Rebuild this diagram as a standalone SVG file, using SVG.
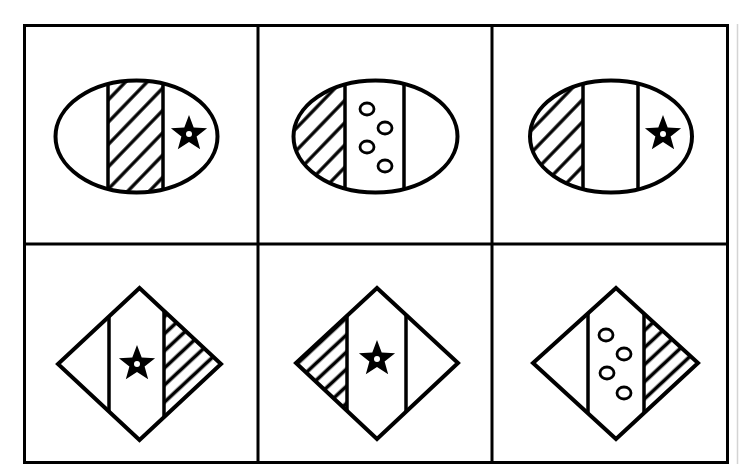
<svg xmlns="http://www.w3.org/2000/svg" width="740" height="474" viewBox="0 0 740 474">
<style>
.grid{fill:none;stroke:#000;stroke-width:3}
.shape{fill:none;stroke:#000;stroke-width:4;stroke-linejoin:miter}
.div{stroke:#000;stroke-width:3.5}
.dot{fill:#fff;stroke:#000;stroke-width:2.8}
</style>
<defs>
<pattern id="hatchE" patternUnits="userSpaceOnUse" width="15.5" height="15.5" patternTransform="rotate(-46)">
<line x1="0" y1="7.75" x2="15.5" y2="7.75" stroke="#000" stroke-width="3.3"/>
</pattern>
<pattern id="hatchD" patternUnits="userSpaceOnUse" width="12.5" height="12.5" patternTransform="rotate(-43)">
<line x1="0" y1="6.25" x2="12.5" y2="6.25" stroke="#000" stroke-width="3.6"/>
</pattern>
<g id="star">
<polygon points="0,-19 4.7,-6.47 18.07,-5.87 7.61,2.47 11.17,15.37 0,8 -11.17,15.37 -7.61,2.47 -18.07,-5.87 -4.7,-6.47" fill="#000"/>
<circle cx="0" cy="0" r="3" fill="#fff"/>
</g>
<clipPath id="c1"><ellipse cx="136.5" cy="136.5" rx="81" ry="56"/></clipPath>
<clipPath id="c2"><ellipse cx="375.5" cy="136.5" rx="82" ry="56"/></clipPath>
<clipPath id="c3"><ellipse cx="611" cy="136.5" rx="81" ry="56"/></clipPath>
<clipPath id="c4"><polygon points="139.5,288 221,364 139.5,440 58,364"/></clipPath>
<clipPath id="c5"><polygon points="377,288 458,363 377,439 296,363"/></clipPath>
<clipPath id="c6"><polygon points="616,288 698,363 616,439 533,363"/></clipPath>
</defs>
<rect width="740" height="474" fill="#fff"/>
<g id="grid">
<rect class="grid" x="24.5" y="25.5" width="703" height="437"/>
<line class="grid" x1="24.5" y1="244" x2="727.5" y2="244"/>
<line class="grid" x1="258" y1="25.5" x2="258" y2="462.5"/>
<line class="grid" x1="492" y1="25.5" x2="492" y2="462.5"/>
<line x1="737.5" y1="24" x2="737.5" y2="464" stroke="#d4d4d4" stroke-width="1.5"/>
</g>
<g id="fig1">
<g clip-path="url(#c1)">
<rect x="108" y="70" width="55" height="140" fill="url(#hatchE)"/>
<line class="div" x1="108" y1="70" x2="108" y2="210"/>
<line class="div" x1="163" y1="70" x2="163" y2="210"/>
</g>
<ellipse class="shape" cx="136.5" cy="136.5" rx="81" ry="56"/>
<use href="#star" x="189" y="134"/>
</g>
<g id="fig2">
<g clip-path="url(#c2)">
<rect x="290" y="70" width="55" height="140" fill="url(#hatchE)"/>
<line class="div" x1="345" y1="70" x2="345" y2="210"/>
<line class="div" x1="404" y1="70" x2="404" y2="210"/>
</g>
<ellipse class="shape" cx="375.5" cy="136.5" rx="82" ry="56"/>
<ellipse class="dot" cx="367" cy="109" rx="7" ry="6"/>
<ellipse class="dot" cx="385" cy="128" rx="7" ry="6"/>
<ellipse class="dot" cx="367" cy="147" rx="7" ry="6"/>
<ellipse class="dot" cx="385" cy="166" rx="7" ry="6"/>
</g>
<g id="fig3">
<g clip-path="url(#c3)">
<rect x="525" y="70" width="58" height="140" fill="url(#hatchE)"/>
<line class="div" x1="583" y1="70" x2="583" y2="210"/>
<line class="div" x1="638" y1="70" x2="638" y2="210"/>
</g>
<ellipse class="shape" cx="611" cy="136.5" rx="81" ry="56"/>
<use href="#star" x="663" y="134"/>
</g>
<g id="fig4">
<g clip-path="url(#c4)">
<rect x="164" y="280" width="62" height="165" fill="url(#hatchD)"/>
<line class="div" x1="109" y1="280" x2="109" y2="445"/>
<line class="div" x1="164" y1="280" x2="164" y2="445"/>
</g>
<polygon class="shape" points="139.5,288 221,364 139.5,440 58,364"/>
<use href="#star" x="137" y="364"/>
</g>
<g id="fig5">
<g clip-path="url(#c5)">
<rect x="290" y="280" width="57" height="165" fill="url(#hatchD)"/>
<line class="div" x1="347" y1="280" x2="347" y2="445"/>
<line class="div" x1="406" y1="280" x2="406" y2="445"/>
</g>
<polygon class="shape" points="377,288 458,363 377,439 296,363"/>
<use href="#star" x="377" y="359"/>
</g>
<g id="fig6">
<g clip-path="url(#c6)">
<rect x="644" y="280" width="60" height="165" fill="url(#hatchD)"/>
<line class="div" x1="588" y1="280" x2="588" y2="445"/>
<line class="div" x1="644" y1="280" x2="644" y2="445"/>
</g>
<polygon class="shape" points="616,288 698,363 616,439 533,363"/>
<ellipse class="dot" cx="606" cy="335" rx="7" ry="6"/>
<ellipse class="dot" cx="624" cy="354" rx="7" ry="6"/>
<ellipse class="dot" cx="607" cy="373" rx="7" ry="6"/>
<ellipse class="dot" cx="624" cy="393" rx="7" ry="6"/>
</g>
</svg>
